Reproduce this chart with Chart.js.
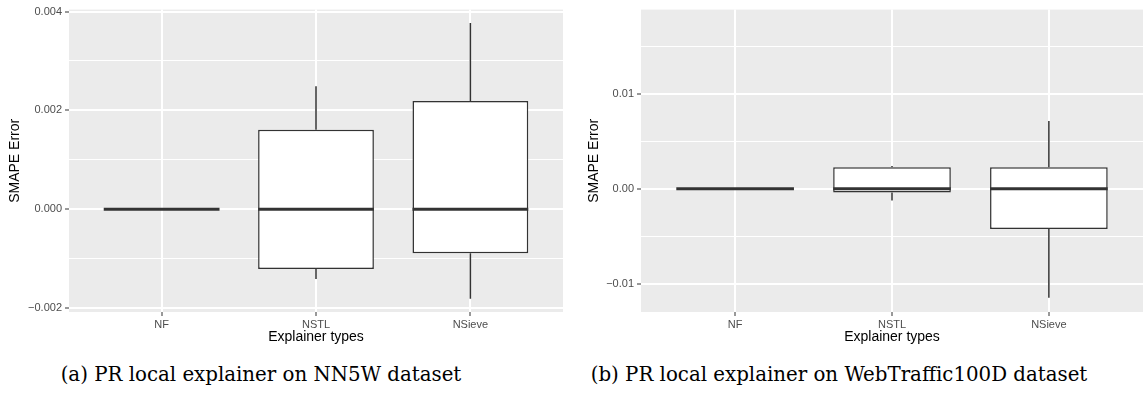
<!DOCTYPE html>
<html>
<head>
<meta charset="utf-8">
<script src="https://cdn.jsdelivr.net/npm/chart.js@4"></script>
<style>
body { margin: 0; background: #fff; width: 1146px; height: 401px; position: relative; overflow: hidden; }
.panel { position: absolute; top: 0; width: 573px; height: 350px; }
.cap { position: absolute; top: 363px; font-family: "DejaVu Serif", serif; font-size: 19.8px; color: #000; text-align: center; white-space: nowrap; }
</style>
</head>
<body>
<div class="panel" style="left:0"><canvas id="chartA" width="573" height="350"></canvas></div>
<div class="panel" style="left:573px"><canvas id="chartB" width="573" height="350"></canvas></div>
<div class="cap" style="left:0;width:522px">(a) PR local explainer on NN5W dataset</div>
<div class="cap" style="left:532px;width:614px">(b) PR local explainer on WebTraffic100D dataset</div>
<script>
// explainer categories (x axis)
var explainers = ["NF", "NSTL", "NSieve"];

// (a) NN5W - box stats per explainer
var nn5w_min = [0, -0.00141, -0.00181];
var nn5w_q1 = [0, -0.00121, -0.00089];
var nn5w_median = [0, 0, 0];
var nn5w_q3 = [0, 0.00161, 0.00219];
var nn5w_max = [0, 0.00249, 0.00377];
var nn5w_ticks = [-0.002, 0, 0.002, 0.004];
var nn5w_tick_labels = ["\u22120.002", "0.000", "0.002", "0.004"];
var nn5w_minor = [-0.001, 0.001, 0.003];

// (b) WebTraffic100D - box stats per explainer
var web_min = [0, -0.00124, -0.0115];
var web_q1 = [0, -0.0004, -0.00425];
var web_median = [0, 0, 0];
var web_q3 = [0, 0.00228, 0.00228];
var web_max = [0, 0.0024, 0.00715];
var web_ticks = [-0.01, 0, 0.01];
var web_tick_labels = ["\u22120.01", "0.00", "0.01"];
var web_minor = [-0.005, 0.005, 0.015];

var panelBg = {
    id: 'panelBg',
    beforeDraw: function (chart) {
        var a = chart.chartArea;
        chart.ctx.save();
        chart.ctx.fillStyle = '#EBEBEB';
        chart.ctx.fillRect(a.left, a.top, a.right - a.left, a.bottom - a.top);
        chart.ctx.restore();
    }
};

// whiskers + median lines, placed with the y scale and the bar elements
var boxLines = {
    id: 'boxLines',
    afterDatasetsDraw: function (chart, args, o) {
        var ctx = chart.ctx;
        var y = chart.scales.y;
        var meta = chart.getDatasetMeta(0);
        ctx.save();
        ctx.strokeStyle = '#333333';
        meta.data.forEach(function (bar, i) {
            var xc = bar.x;
            ctx.lineWidth = 1.5;
            ctx.beginPath();
            ctx.moveTo(xc, y.getPixelForValue(o.q3[i]));
            ctx.lineTo(xc, y.getPixelForValue(o.max[i]));
            ctx.moveTo(xc, y.getPixelForValue(o.q1[i]));
            ctx.lineTo(xc, y.getPixelForValue(o.min[i]));
            ctx.stroke();
            var half = bar.width / 2;
            var ym = y.getPixelForValue(o.median[i]);
            ctx.lineWidth = 3;
            ctx.beginPath();
            ctx.moveTo(xc - half, ym);
            ctx.lineTo(xc + half, ym);
            ctx.stroke();
        });
        ctx.restore();
    }
};

function isIn(list, v) {
    for (var k = 0; k < list.length; k++) {
        if (Math.abs(list[k] - v) < 1e-9) return k;
    }
    return -1;
}

function makeBoxChart(id, mins, q1s, meds, q3s, maxs, ticks, tickLabels, minor, yMin, yMax, lay) {
    var boxes = [];
    for (var i = 0; i < explainers.length; i++) {
        boxes.push({ x: i + 1, y: [q1s[i], q3s[i]] });
    }
    var allTicks = ticks.concat(minor).sort(function (a, b) { return a - b; });
    return new Chart(document.getElementById(id), {
        type: 'bar',
        data: {
            datasets: [{
                data: boxes,
                backgroundColor: '#ffffff',
                borderColor: '#333333',
                borderWidth: 1.5,
                borderSkipped: false,
                barPercentage: 0.75,
                categoryPercentage: 1
            }]
        },
        options: {
            responsive: false,
            animation: false,
            layout: { padding: { left: 0, right: lay.right, top: lay.top, bottom: 0 } },
            plugins: {
                legend: { display: false },
                tooltip: { enabled: false },
                boxLines: { min: mins, q1: q1s, median: meds, q3: q3s, max: maxs }
            },
            scales: {
                x: {
                    type: 'linear',
                    min: 0.4,
                    max: 3.6,
                    offset: false,
                    afterBuildTicks: function (s) {
                        s.ticks = explainers.map(function (c, i) { return { value: i + 1 }; });
                    },
                    afterFit: function (s) { s.height = 38; },
                    border: { display: false },
                    grid: { offset: false, color: '#ffffff', lineWidth: 2, tickLength: 4, tickColor: '#333333', tickWidth: 1 },
                    ticks: {
                        autoSkip: false,
                        maxRotation: 0,
                        padding: 2,
                        color: '#4D4D4D',
                        font: { family: 'Liberation Sans', size: 11 },
                        callback: function (v) { return explainers[Math.round(v) - 1]; }
                    },
                    title: {
                        display: true,
                        text: 'Explainer types',
                        color: '#000000',
                        font: { family: 'Liberation Sans', size: 14 },
                        padding: { top: 0, bottom: 4 }
                    }
                },
                y: {
                    min: yMin,
                    max: yMax,
                    afterBuildTicks: function (s) {
                        s.ticks = allTicks.map(function (v) { return { value: v }; });
                    },
                    afterFit: function (s) { s.width = lay.yWidth; },
                    border: { display: false },
                    grid: {
                        color: '#ffffff',
                        lineWidth: function (c) { return c.tick && isIn(ticks, c.tick.value) >= 0 ? 2 : 1; },
                        tickLength: 4,
                        tickWidth: 1,
                        tickColor: function (c) { return c.tick && isIn(ticks, c.tick.value) >= 0 ? '#333333' : 'rgba(0,0,0,0)'; }
                    },
                    ticks: {
                        autoSkip: false,
                        padding: 3,
                        color: '#4D4D4D',
                        font: { family: 'Liberation Sans', size: 11 },
                        callback: function (v) {
                            var k = isIn(ticks, v);
                            return k >= 0 ? tickLabels[k] : '';
                        }
                    },
                    title: {
                        display: true,
                        text: 'SMAPE Error',
                        color: '#000000',
                        font: { family: 'Liberation Sans', size: 14 },
                        padding: { top: lay.titlePad, bottom: 0 }
                    }
                }
            }
        },
        plugins: [panelBg, boxLines]
    });
}

makeBoxChart('chartA', nn5w_min, nn5w_q1, nn5w_median, nn5w_q3, nn5w_max,
    nn5w_ticks, nn5w_tick_labels, nn5w_minor, -0.00208, 0.00404,
    { right: 10, top: 5, yWidth: 69, titlePad: 7 });

makeBoxChart('chartB', web_min, web_q1, web_median, web_q3, web_max,
    web_ticks, web_tick_labels, web_minor, -0.013, 0.0189,
    { right: 3, top: 4, yWidth: 68, titlePad: 13 });
</script>
</body>
</html>
